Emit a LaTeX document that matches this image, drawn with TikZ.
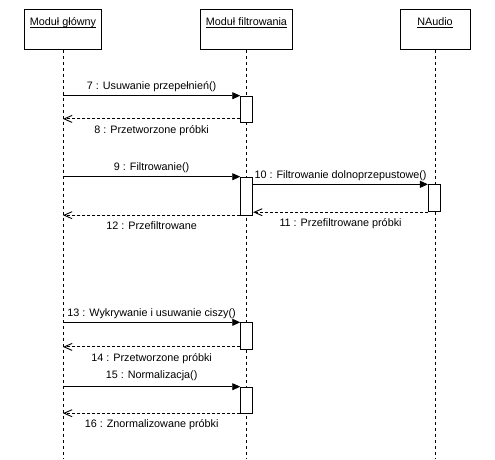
\documentclass[tikz,border=0pt]{standalone}
\usepackage{fontspec}
\setmainfont{Liberation Sans}
\usetikzlibrary{arrows.meta}
\newcommand{\myul}[1]{\setbox0\hbox{#1}\rlap{\rule[-2.2pt]{\wd0}{0.7pt}}\box0}
\begin{document}
\begin{tikzpicture}[x=1pt,y=-1pt,
  every node/.style={font=\fontsize{10.8}{13}\selectfont},
  obj/.style={draw, line width=0.9pt, minimum height=40pt, inner sep=0pt, anchor=north},
  objlbl/.style={anchor=base},
  life/.style={line width=0.9pt, dash pattern=on 3pt off 3pt},
  act/.style={draw, fill=white, line width=0.9pt, minimum width=12pt, inner sep=0pt, anchor=north},
  call/.style={line width=0.9pt, -{Triangle[length=8pt,width=7pt]}},
  ret/.style={line width=0.9pt, dash pattern=on 3pt off 2pt, -{Straight Barb[length=8pt,width=7pt]}},
  clbl/.style={anchor=base, yshift=6pt},
  rlbl/.style={anchor=base, yshift=-14.5pt}]
\useasboundingbox (0,0) rectangle (495,459);

% objects
\node[obj, minimum width=77pt] (A) at (63,9) {};
\node[obj, minimum width=92pt] (B) at (246.5,9) {};
\node[obj, minimum width=70pt] (C) at (435,9) {};
\node[objlbl] (Al) at (63,25) {\myul{Moduł główny}};
\node[objlbl] (Bl) at (246.5,25) {\myul{Moduł filtrowania}};
\node[objlbl] (Cl) at (435,25) {\myul{NAudio}};

% lifelines
\coordinate (Aend) at (63,459);
\coordinate (Bend) at (246.5,459);
\coordinate (Cend) at (435,459);
\draw[life] (A.south) -- (Aend);
\draw[life] (B.south) -- (Bend);
\draw[life] (C.south) -- (Cend);

% activations
\node[act, minimum height=26.3pt] (a1) at (246.7,95.7) {};
\node[act, minimum height=38.6pt] (a2) at (246.7,176.7) {};
\node[act, minimum height=27pt] (a3) at (434.4,184.3) {};
\node[act, minimum height=27pt] (a4) at (246.7,322.3) {};
\node[act, minimum height=26.6pt] (a5) at (246.7,386.7) {};

% return points
\coordinate (r8) at ([yshift=4pt]a1.south west);
\coordinate (r12) at ([yshift=1pt]a2.south west);
\coordinate (r14) at ([yshift=3.3pt]a4.south west);
\coordinate (r16) at ([yshift=1pt]a5.south west);

% messages
\draw[call] (A.south |- a1.north) -- node[clbl] {7 : Usuwanie przepełnień()} (a1.north west);
\draw[ret] (r8) -- node[rlbl] {8 : Przetworzone próbki} (A.south |- r8);

\draw[call] (A.south |- a2.north) -- node[clbl] {9 : Filtrowanie()} (a2.north west);
\draw[call] (a2.east |- a3.north) -- node[clbl] {10 : Filtrowanie dolnoprzepustowe()} (a3.north west);
\draw[ret] (a3.south west) -- node[rlbl] {11 : Przefiltrowane próbki} (a2.east |- a3.south);
\draw[ret] (r12) -- node[rlbl] {12 : Przefiltrowane} (A.south |- r12);

\draw[call] (A.south |- a4.north) -- node[clbl] {13 : Wykrywanie i usuwanie ciszy()} (a4.north west);
\draw[ret] (r14) -- node[rlbl] {14 : Przetworzone próbki} (A.south |- r14);

\draw[call] (A.south |- a5.north) -- node[clbl, yshift=2.4pt] {15 : Normalizacja()} (a5.north west);
\draw[ret] (r16) -- node[rlbl] {16 : Znormalizowane próbki} (A.south |- r16);
\end{tikzpicture}
\end{document}
